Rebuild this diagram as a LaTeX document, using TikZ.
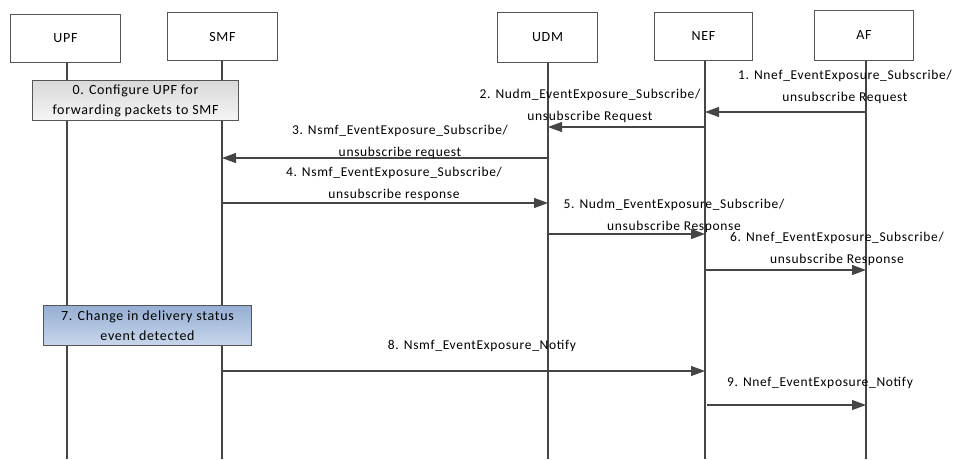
\documentclass[tikz,border=0pt]{standalone}
\usepackage{fontspec}
\setmainfont{Carlito}[LetterSpace=5]
\usetikzlibrary{arrows.meta}
\definecolor{ln}{HTML}{454545}
\definecolor{bx}{HTML}{555555}
\tikzset{
  x=1pt,y=-1pt,
  actor/.style={draw=bx,line width=1pt,fill=white,anchor=north west,inner sep=0pt,font=\fontsize{14}{16}\selectfont},
  life/.style={draw=ln,line width=1.1pt},
  msg/.style={draw=ln,line width=1.1pt,-{Triangle[length=14pt,width=10pt]}},
  lbl/.style={align=center,inner sep=0pt,font=\fontsize{13.5}{21.5}\selectfont},
  grayact/.style={draw=bx,line width=1pt,inner sep=0pt,anchor=north west,top color=gray!30,bottom color=gray!8,align=center,font=\fontsize{14}{20}\selectfont},
  blueact/.style={draw=bx,line width=1pt,inner sep=0pt,anchor=north west,top color={rgb,255:red,150;green,175;blue,211},bottom color={rgb,255:red,200;green,214;blue,235},align=center,font=\fontsize{14}{20}\selectfont},
}
\begin{document}
\begin{tikzpicture}
\useasboundingbox (0,0) rectangle (956,459);
% actors
\node[actor,minimum width=110pt,minimum height=48pt] (UPF) at (10,14) {UPF};
\node[actor,minimum width=110pt,minimum height=48pt] (SMF) at (167,12) {SMF};
\node[actor,minimum width=100pt,minimum height=50pt] (UDM) at (497,12) {UDM};
\node[actor,minimum width=98pt,minimum height=48pt] (NEF) at (654,12) {NEF};
\node[actor,minimum width=99pt,minimum height=50pt] (AF) at (814,10) {AF};
% lifeline ends
\coordinate (UPFe) at (67,459);
\coordinate (SMFe) at (222,459);
\coordinate (UDMe) at (548,459);
\coordinate (NEFe) at (705,459);
\coordinate (AFe) at (866,459);
\draw[life] (UPF.south -| UPFe) -- (UPFe);
\draw[life] (SMF.south -| SMFe) -- (SMFe);
\draw[life] (UDM.south -| UDMe) -- (UDMe);
\draw[life] (NEF.south -| NEFe) -- (NEFe);
\draw[life] (AF.south -| AFe) -- (AFe);
% action boxes
\node[grayact,minimum width=206pt,minimum height=40pt] (S0) at (32,80) {0. Configure UPF for\\forwarding packets to SMF};
\node[blueact,minimum width=208pt,minimum height=40pt] (S7) at (43,305) {7. Change in delivery status\\event detected};
% message endpoints
\coordinate (m1a) at (866,112); \coordinate (m1b) at (705,112);
\coordinate (m2a) at (705,127); \coordinate (m2b) at (548,127);
\coordinate (m3a) at (548,158); \coordinate (m3b) at (222,158);
\coordinate (m4a) at (222,203); \coordinate (m4b) at (548,203);
\coordinate (m5a) at (548,234); \coordinate (m5b) at (705,234);
\coordinate (m6a) at (705,270); \coordinate (m6b) at (866,270);
\coordinate (m8a) at (222,371); \coordinate (m8b) at (705,371);
\coordinate (m9a) at (707,405); \coordinate (m9b) at (866,405);
\draw[msg] (m1a) -- (m1b);
\draw[msg] (m2a) -- (m2b);
\draw[msg] (m3a) -- (m3b);
\draw[msg] (m4a) -- (m4b);
\draw[msg] (m5a) -- (m5b);
\draw[msg] (m6a) -- (m6b);
\draw[msg] (m8a) -- (m8b);
\draw[msg] (m9a) -- (m9b);
% labels
\node[lbl] (L1) at (845,87) {1. Nnef\_EventExposure\_Subscribe/\\unsubscribe Request};
\node[lbl] (L2) at (590,106) {2. Nudm\_EventExposure\_Subscribe/\\unsubscribe Request};
\node[lbl] (L3) at (400,142) {3. Nsmf\_EventExposure\_Subscribe/\\unsubscribe request};
\node[lbl] (L4) at (394,184) {4. Nsmf\_EventExposure\_Subscribe/\\unsubscribe response};
\node[lbl] (L5) at (674,216) {5. Nudm\_EventExposure\_Subscribe/\\unsubscribe Response};
\node[lbl] (L6) at (837,249) {6. Nnef\_EventExposure\_Subscribe/\\unsubscribe Response};
\node[lbl] (L8) at (482,346) {8. Nsmf\_EventExposure\_Notify};
\node[lbl] (L9) at (820,383) {9. Nnef\_EventExposure\_Notify};
\end{tikzpicture}
\end{document}
